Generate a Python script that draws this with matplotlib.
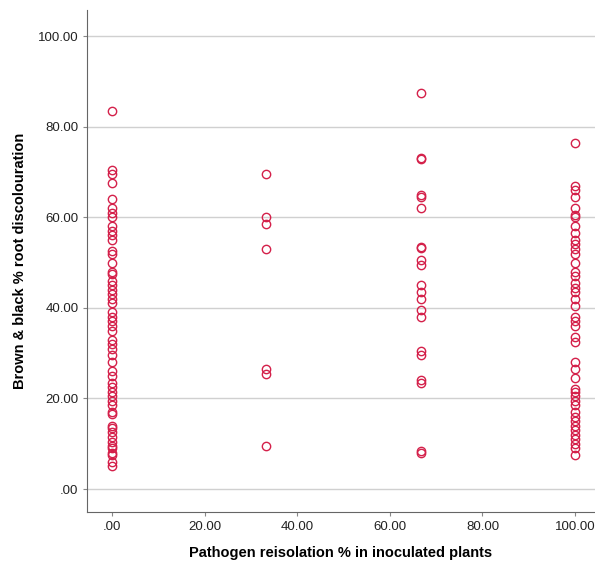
import matplotlib
matplotlib.use("Agg")
import matplotlib.pyplot as plt

plt.rcParams['font.family'] = ['Liberation Sans', 'DejaVu Sans']

# reisolation % groups and root discolouration % values
x_groups = [0.0, 33.33, 66.67, 100.0]

y_at_0 = [83.5, 70.5, 69.5, 67.5, 64.0, 62.0, 61.0, 60.0, 58.0, 57.0, 56.0, 55.0,
          52.5, 52.0, 50.0, 48.0, 47.5, 46.0, 45.0, 44.0, 43.0, 42.0, 41.0, 39.0,
          38.0, 37.0, 36.0, 35.0, 33.0, 32.0, 31.0, 29.5, 28.0, 26.0, 25.0, 23.5,
          22.5, 21.5, 20.5, 19.5, 18.5, 17.0, 16.5, 14.0, 13.5, 12.5, 11.5, 10.5,
          9.5, 9.0, 8.0, 7.5, 6.0, 5.0]
y_at_33 = [69.5, 60.0, 58.5, 53.0, 26.5, 25.5, 9.5]
y_at_67 = [87.5, 73.0, 72.8, 65.0, 64.5, 62.0, 53.5, 53.3, 50.5, 49.5, 45.0, 43.5,
           42.0, 39.5, 38.0, 30.5, 29.5, 24.0, 23.5, 8.5, 8.0]
y_at_100 = [76.5, 67.0, 66.0, 64.5, 62.0, 60.5, 60.0, 58.0, 56.5, 55.0, 54.0, 53.0,
            52.0, 50.0, 48.0, 47.0, 45.5, 44.5, 43.5, 42.0, 40.5, 38.0, 37.0, 36.0,
            33.5, 32.5, 28.0, 26.5, 24.5, 22.0, 21.5, 20.5, 19.5, 18.5, 17.0, 16.0,
            15.0, 14.0, 13.0, 12.0, 11.0, 10.0, 9.0, 7.5]

tick_vals = [0, 20, 40, 60, 80, 100]
tick_labels = ['.00', '20.00', '40.00', '60.00', '80.00', '100.00']

fig = plt.figure(figsize=(5.95, 5.71), dpi=100)
ax = fig.add_axes([0.146, 0.103, 0.854, 0.879])

for xv, ys in zip(x_groups, [y_at_0, y_at_33, y_at_67, y_at_100]):
    ax.plot([xv] * len(ys), ys, linestyle='none', marker='o', markersize=6,
            markerfacecolor='none', markeredgecolor='#d4204a', markeredgewidth=1.0)

ax.set_xlim(-5.4, 104.3)
ax.set_ylim(-5.1, 105.7)
ax.set_xticks(tick_vals)
ax.set_xticklabels(tick_labels)
ax.set_yticks(tick_vals)
ax.set_yticklabels(tick_labels)
ax.tick_params(labelsize=9.5, labelcolor='#222222', length=3, width=0.8,
               color='#888888', pad=3)

ax.yaxis.grid(True, color='#d0d0d0', linewidth=1.0)
ax.set_axisbelow(True)

for side in ['top', 'right']:
    ax.spines[side].set_visible(False)
ax.spines['left'].set_color('#666666')
ax.spines['bottom'].set_color('#666666')

ax.set_xlabel('Pathogen reisolation % in inoculated plants', fontsize=10.5,
              fontweight='bold', labelpad=10)
ax.set_ylabel('Brown & black % root discolouration', fontsize=10.5,
              fontweight='bold', labelpad=8)

fig.savefig('out.png', dpi=100)
